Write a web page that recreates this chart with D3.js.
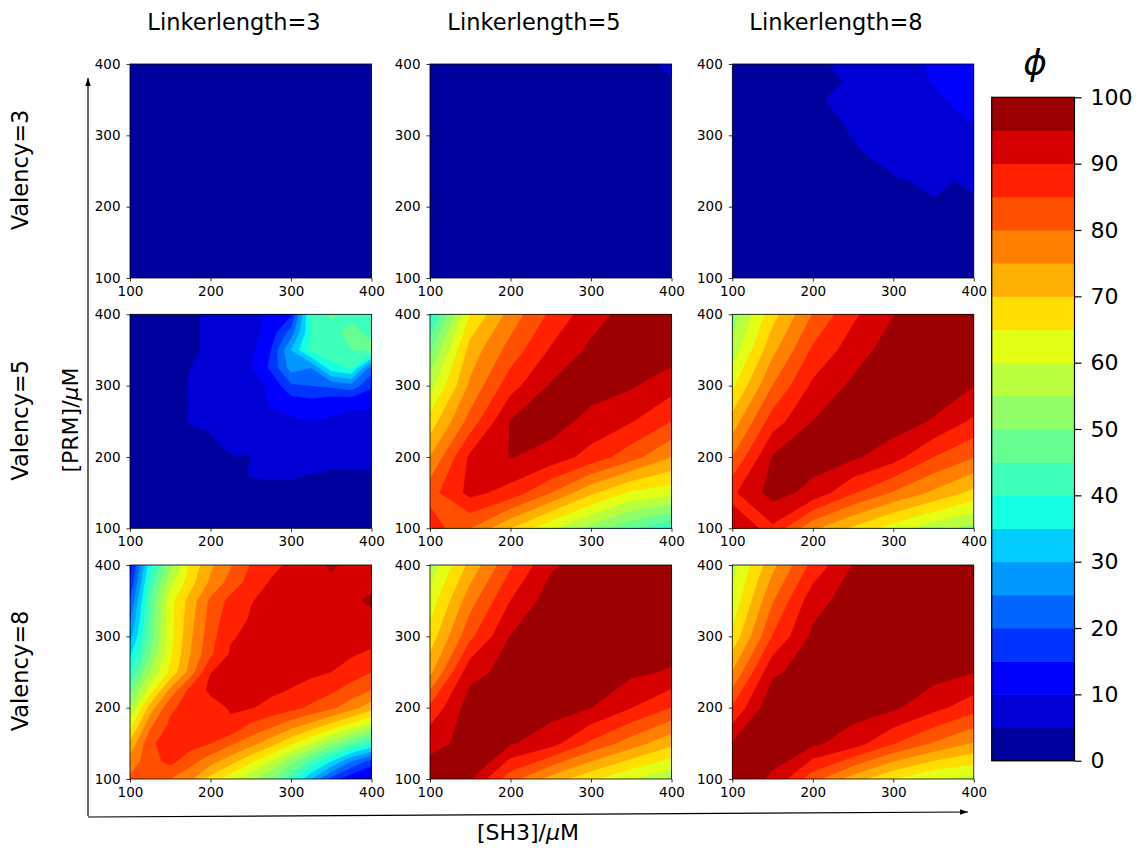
<!DOCTYPE html>
<html>
<head>
<meta charset="utf-8">
<script src="https://cdn.jsdelivr.net/npm/d3@7"></script>
<style>
body { margin: 0; background: #fff; }
text { font-family: "DejaVu Sans", sans-serif; }
</style>
</head>
<body>
<div id="chart"></div>
<script>
// axis ticks and contour levels
var ticks = [100, 200, 300, 400]
var levels = d3.range(0, 101, 5)
var cbarTicks = d3.range(0, 101, 10)
var linkers = ["Linkerlength=3", "Linkerlength=5", "Linkerlength=8"]
var valencies = ["Valency=3", "Valency=5", "Valency=8"]

// phi grids: rows go from [PRM]=400 (top) down to 100, columns are [SH3]=100..400
var v3l3 = [
  [1.5, 1.6, 1.7, 1.8, 1.9, 2.0, 2.2],
  [1.3, 1.4, 1.5, 1.6, 1.7, 1.8, 2.0],
  [1.1, 1.2, 1.3, 1.4, 1.5, 1.6, 1.7],
  [0.9, 1.0, 1.1, 1.2, 1.3, 1.4, 1.5],
  [0.7, 0.8, 0.9, 1.0, 1.1, 1.2, 1.3],
  [0.5, 0.6, 0.7, 0.8, 0.9, 1.0, 1.1],
  [0.3, 0.4, 0.5, 0.6, 0.7, 0.8, 0.9]
]
var v3l5 = [
  [1.5, 1.8, 2.0, 2.3, 2.6, 3.0, 6.0],
  [1.2, 1.5, 1.8, 2.0, 2.3, 2.6, 3.2],
  [1.0, 1.2, 1.5, 1.8, 2.0, 2.3, 2.6],
  [0.8, 1.0, 1.2, 1.5, 1.7, 2.0, 2.2],
  [0.6, 0.8, 1.0, 1.2, 1.4, 1.6, 1.8],
  [0.4, 0.6, 0.8, 1.0, 1.1, 1.3, 1.4],
  [0.3, 0.4, 0.6, 0.7, 0.8, 0.9, 1.0]
]
var v3l8 = [
  [0.5, 0.8, 1.2, 1.8, 3.0, 5.4, 6.5, 7.0, 7.5, 8.5, 11.2, 12, 13],
  [0.5, 0.8, 1.0, 1.5, 2.5, 4.2, 5.8, 6.5, 7.0, 8.5, 10.3, 11, 12],
  [0.4, 0.6, 1.0, 1.5, 3.5, 5.8, 6.5, 7.0, 7.5, 8.0, 9.0, 10.5, 11.5],
  [0.3, 0.5, 0.8, 1.2, 2.5, 4.5, 6.0, 6.5, 7.0, 7.5, 8.5, 9.6, 10.2],
  [0.3, 0.4, 0.6, 1.0, 2.0, 3.5, 5.3, 6.0, 6.5, 7.0, 8.0, 8.8, 9.5],
  [0.2, 0.3, 0.5, 0.8, 1.5, 2.5, 4.0, 5.8, 6.3, 6.8, 7.5, 8.0, 8.5],
  [0.2, 0.3, 0.4, 0.6, 1.0, 1.8, 2.8, 3.8, 5.3, 6.0, 6.5, 5.5, 7.5],
  [0.1, 0.2, 0.3, 0.5, 0.8, 1.2, 2.0, 3.0, 4.0, 4.5, 5.8, 4.5, 5.3],
  [0.1, 0.1, 0.2, 0.3, 0.5, 0.8, 1.2, 2.0, 2.8, 3.3, 4.0, 3.8, 3.4],
  [0.1, 0.1, 0.1, 0.2, 0.3, 0.5, 0.8, 1.2, 1.8, 2.3, 2.8, 2.8, 2.6],
  [0.0, 0.1, 0.1, 0.1, 0.2, 0.3, 0.5, 0.8, 1.2, 1.5, 1.8, 2.0, 2.0],
  [0.0, 0.0, 0.1, 0.1, 0.1, 0.2, 0.3, 0.5, 0.7, 0.9, 1.1, 1.3, 1.4],
  [0.0, 0.0, 0.0, 0.1, 0.1, 0.1, 0.2, 0.3, 0.4, 0.5, 0.6, 0.7, 0.8]
]
var v5l3 = [
  [2.5, 3.0, 3.5, 4.0, 6.0, 7.0, 8.5, 11, 14, 42, 45.5, 44, 44],
  [2.5, 3.0, 3.5, 4.0, 6.0, 7.0, 8.0, 12, 22, 40, 44, 46, 44],
  [2.0, 2.5, 3.0, 4.0, 6.0, 7.0, 8.5, 15, 30, 42, 43, 45, 46],
  [1.5, 2.0, 3.0, 5.0, 6.0, 7.0, 9.5, 16, 27, 25, 38, 41, 22],
  [2.0, 2.5, 3.0, 5.3, 6.0, 6.5, 8.0, 11, 19, 20, 21, 23, 16],
  [2.0, 2.5, 3.0, 5.2, 6.0, 6.5, 7.5, 10.5, 12, 13, 11, 10.4, 10.4],
  [2.0, 2.5, 3.0, 5.3, 5.3, 6.0, 7.0, 8.5, 9.0, 10, 9.5, 9.4, 9.3],
  [2.5, 3.0, 3.5, 4.0, 4.8, 6.0, 7.0, 7.5, 8.0, 8.0, 8.0, 8.0, 8.0],
  [1.0, 1.5, 2.0, 2.5, 3.5, 4.8, 5.0, 6.0, 6.5, 6.8, 6.5, 6.5, 6.5],
  [0.5, 1.0, 1.5, 2.0, 2.5, 3.5, 5.3, 5.4, 5.4, 4.9, 4.3, 4.4, 4.4],
  [0.3, 0.5, 1.0, 1.5, 2.0, 2.5, 3.5, 4.0, 4.0, 3.5, 3.0, 3.0, 3.0],
  [0.2, 0.3, 0.5, 1.0, 1.3, 1.6, 2.0, 2.5, 2.5, 2.2, 2.0, 2.0, 2.0],
  [0.1, 0.2, 0.3, 0.5, 0.8, 1.0, 1.3, 1.5, 1.5, 1.4, 1.3, 1.3, 1.3]
]
var v5l5 = [
  [38, 65, 77, 86, 93, 97, 98],
  [49, 72, 82, 90.5, 96, 98, 97.5],
  [58, 76, 88, 95.5, 97, 95.5, 92],
  [67, 82, 95.3, 97, 93.5, 90.3, 85],
  [75, 91, 95.2, 93, 88, 82, 75],
  [83, 91.5, 88, 80, 71, 64, 62],
  [88, 80, 70, 61, 53, 46, 40]
]
var v5l8 = [
  [52, 68, 80.2, 89, 94.8, 98, 98.5],
  [57, 73.5, 85.8, 92.5, 97.5, 98.5, 97.5],
  [64, 80, 91, 96, 98.5, 98, 95.1],
  [72, 87.5, 95, 98, 97.5, 94.5, 89],
  [80, 95.3, 97, 95.8, 92, 85, 80.2],
  [89, 97, 93.5, 85.5, 79.5, 74, 68.5],
  [92, 89, 76, 69, 62.5, 57, 53]
]
var v8l3 = [
  [12, 38, 53, 66, 74, 79.5, 85.2, 88.5, 91, 92.5, 96, 93, 93],
  [15, 42, 58, 68, 76, 82, 87, 90.5, 91.5, 92.5, 93.5, 93, 93.5],
  [20, 45, 63, 72, 81, 86.5, 89.8, 91, 92, 92.5, 93, 94, 96],
  [24, 46, 63, 73, 82, 88, 90.3, 91.5, 92, 92.5, 93, 93, 93.5],
  [28, 47, 63, 74, 83, 89.5, 91, 92, 92.5, 92.5, 92.5, 92.5, 92],
  [34, 50, 64, 75, 84, 90.6, 92, 92.5, 92.5, 92, 91.5, 90.5, 89],
  [40, 55, 66, 77, 89.9, 91, 92, 92, 91.5, 91, 90, 87.5, 85],
  [48, 62, 76, 86.5, 91, 91.5, 91.5, 91, 89.8, 88, 86, 83, 80],
  [55, 72, 84, 87, 88, 90.5, 90.3, 88.5, 86.5, 84, 81, 77, 72],
  [63, 79, 86, 87.5, 87, 89, 84, 81, 77, 73, 68, 63, 58],
  [71, 84, 87.5, 87, 85, 81, 77, 72, 66, 60, 53, 46, 40],
  [77, 83, 86.5, 82, 77, 72, 66, 60, 52, 44, 35, 25, 18],
  [81, 82, 80, 76, 68, 62, 56, 50, 42, 30, 18, 11, 7]
]
var v8l5 = [
  [57, 71.5, 84.2, 94.2, 97.5, 98, 98.5],
  [62, 78, 90, 97.5, 98, 98.5, 98],
  [67, 83.8, 95.2, 97.5, 98.5, 98.5, 97.5],
  [73.5, 93.5, 96.5, 98, 97.5, 96, 94.5],
  [86, 97.5, 97, 97, 95, 90.1, 84.8],
  [94, 96, 95.5, 92, 84, 77.5, 71.3],
  [97, 95.1, 82, 73, 66, 60, 56]
]
var v8l8 = [
  [58, 73.5, 86.5, 95.2, 98, 98.5, 99],
  [61.2, 79.5, 93, 97.5, 98.5, 99, 98.5],
  [66, 85.2, 96, 98, 99, 98.5, 97.5],
  [75.2, 94, 97.5, 98.5, 98, 97, 95.1],
  [85.5, 99, 98, 97, 95.8, 91.5, 87],
  [95.2, 96.5, 96, 92.5, 85.3, 79.5, 74.5],
  [97, 94.5, 82, 72.5, 65, 60, 58.5]
]
var grids = [[v3l3, v3l5, v3l8], [v5l3, v5l5, v5l8], [v8l3, v8l5, v8l8]]

// matplotlib jet segment data
var jetR = [[0, 0], [0.35, 0], [0.66, 1], [0.89, 1], [1, 0.5]]
var jetG = [[0, 0], [0.125, 0], [0.375, 1], [0.64, 1], [0.91, 0], [1, 0]]
var jetB = [[0, 0.5], [0.11, 1], [0.34, 1], [0.65, 0], [1, 0]]
function seg(s, t) {
  for (var i = 1; i < s.length; i++) {
    if (t <= s[i][0]) {
      var f = (t - s[i-1][0]) / (s[i][0] - s[i-1][0])
      return s[i-1][1] + f * (s[i][1] - s[i-1][1])
    }
  }
  return s[s.length-1][1]
}
function jet(t) {
  return d3.rgb(255*seg(jetR, t), 255*seg(jetG, t), 255*seg(jetB, t)).formatHex()
}
var nb = levels.length - 1
function bandColor(i) { return jet((i + 0.5) / nb) }

var svg = d3.select("#chart").append("svg")
  .attr("width", 1147)
  .attr("height", 848)

var colX = [130, 430, 732.3], rowY = [64, 314.3, 565]
var pw = 241.5, ph = 214

grids.forEach(function(row, r) {
  row.forEach(function(grid, c) {
    var g = svg.append("g").attr("transform", "translate(" + colX[c] + "," + rowY[r] + ")")
    var x = d3.scaleLinear().domain([100, 400]).range([0, pw])
    var y = d3.scaleLinear().domain([100, 400]).range([ph, 0])
    var n = grid.length, step = 300 / (n - 1)
    var contours = d3.contours().size([n, n]).thresholds(levels.slice(0, -1))(grid.flat())
    var proj = d3.geoTransform({point: function(px, py) {
      this.stream.point(x(100 + (px - 0.5) * step), y(400 - (py - 0.5) * step))
    }})
    var path = d3.geoPath(proj)
    var id = "clip" + r + c
    g.append("clipPath").attr("id", id).append("rect").attr("width", pw).attr("height", ph)
    g.append("g").attr("clip-path", "url(#" + id + ")")
      .selectAll("path").data(contours).join("path")
      .attr("d", path)
      .attr("fill", function(d, i) { return bandColor(i) })
      .attr("stroke", function(d, i) { return bandColor(i) })
      .attr("stroke-width", 0.5)

    var ax = g.append("g").attr("transform", "translate(0," + ph + ")")
      .call(d3.axisBottom(x).tickValues(ticks).tickSize(3.5).tickPadding(5))
    var ay = g.append("g")
      .call(d3.axisLeft(y).tickValues(ticks).tickSize(3.5).tickPadding(6))
    ;[ax, ay].forEach(function(a) {
      a.select(".domain").remove()
      a.selectAll("text").attr("font-size", 13.5).attr("font-family", "DejaVu Sans").attr("fill", "#000")
      a.selectAll("line").attr("stroke", "#000").attr("stroke-width", 0.8)
    })
    g.append("rect").attr("width", pw).attr("height", ph)
      .attr("fill", "none").attr("stroke", "#000").attr("stroke-width", 0.8)
  })
})

// column and row titles
var titleX = [234, 534, 836]
svg.selectAll(".ctitle").data(linkers).join("text")
  .attr("x", function(d, i) { return titleX[i] })
  .attr("y", 30)
  .attr("text-anchor", "middle")
  .attr("font-size", 22.5)
  .text(function(d) { return d })

svg.selectAll(".rtitle").data(valencies).join("text")
  .attr("transform", function(d, i) { return "translate(28," + (rowY[i] + ph/2 - 1) + ") rotate(-90)" })
  .attr("text-anchor", "middle")
  .attr("font-size", 22.5)
  .text(function(d) { return d })

var ylab = svg.append("text")
  .attr("transform", "translate(78,420) rotate(-90)")
  .attr("text-anchor", "middle")
  .attr("font-size", 22)
ylab.append("tspan").text("[PRM]/")
ylab.append("tspan").attr("font-style", "italic").text("μ")
ylab.append("tspan").text("M")

var xlab = svg.append("text")
  .attr("x", 528).attr("y", 840)
  .attr("text-anchor", "middle")
  .attr("font-size", 22)
xlab.append("tspan").text("[SH3]/")
xlab.append("tspan").attr("font-style", "italic").text("μ")
xlab.append("tspan").text("M")

// arrows along the outer axes
var defs = svg.append("defs")
defs.append("marker").attr("id", "head")
  .attr("viewBox", "0 0 10 10").attr("refX", 10).attr("refY", 5)
  .attr("markerWidth", 7).attr("markerHeight", 7).attr("orient", "auto")
  .append("path").attr("d", "M0,1.5 L10,5 L0,8.5 Z").attr("fill", "#000")
svg.append("line").attr("x1", 88).attr("y1", 816).attr("x2", 88).attr("y2", 78)
  .attr("stroke", "#000").attr("stroke-width", 1.2).attr("marker-end", "url(#head)")
svg.append("line").attr("x1", 88).attr("y1", 817).attr("x2", 968).attr("y2", 812)
  .attr("stroke", "#000").attr("stroke-width", 1.2).attr("marker-end", "url(#head)")

// colorbar
var cbH = 663.4, cbW = 82.8
var cb = svg.append("g").attr("transform", "translate(991.7,97.3)")
var cy = d3.scaleLinear().domain([0, 100]).range([cbH, 0])
cb.selectAll("rect.band").data(levels.slice(0, -1)).join("rect")
  .attr("class", "band")
  .attr("x", 0).attr("width", cbW)
  .attr("y", function(d, i) { return cy(levels[i + 1]) })
  .attr("height", function(d, i) { return cy(levels[i]) - cy(levels[i + 1]) + 0.5 })
  .attr("fill", function(d, i) { return bandColor(i) })
cb.append("rect").attr("width", cbW).attr("height", cbH)
  .attr("fill", "none").attr("stroke", "#000").attr("stroke-width", 1.2)
var cax = cb.append("g").attr("transform", "translate(" + cbW + ",0)")
  .call(d3.axisRight(cy).tickValues(cbarTicks).tickSize(7).tickPadding(9))
cax.select(".domain").remove()
cax.selectAll("text").attr("font-size", 22).attr("font-family", "DejaVu Sans").attr("fill", "#000")
cax.selectAll("line").attr("stroke", "#000").attr("stroke-width", 1.2)

svg.append("text")
  .attr("x", 1035).attr("y", 75)
  .attr("text-anchor", "middle")
  .attr("font-size", 36)
  .attr("font-style", "italic")
  .text("ϕ")
</script>
</body>
</html>
